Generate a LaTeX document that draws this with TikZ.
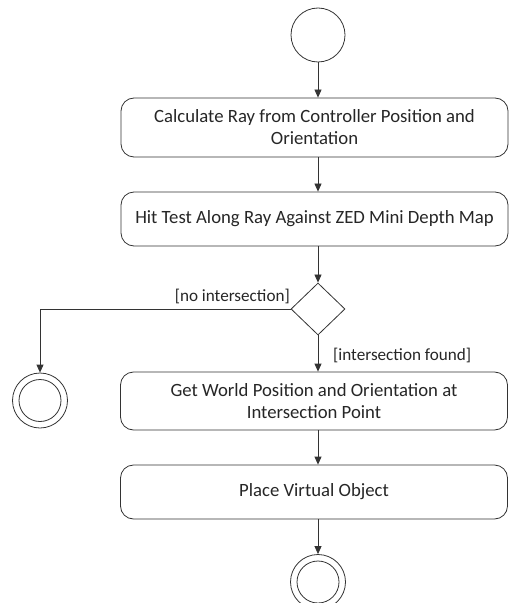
\documentclass[tikz,border=0pt]{standalone}
\usepackage{fontspec}
\setmainfont{Carlito}
\usetikzlibrary{arrows.meta,shapes.geometric}

\tikzset{
  x=1bp, y=-1bp,
  act/.style={draw=black!80, line width=0.8bp, rectangle, rounded corners=13bp,
    minimum width=387bp, align=center, font=\fontsize{18.8}{22}\selectfont,
    text=black!85, inner sep=0pt},
  initial/.style={draw=black!80, line width=0.8bp, circle, minimum size=54bp, inner sep=0pt},
  final/.style={draw=black!80, line width=0.8bp, circle, minimum size=55bp, inner sep=0pt},
  choice/.style={draw=black!80, line width=0.8bp, diamond, minimum width=54bp,
    minimum height=52bp, inner sep=0pt},
  flow/.style={draw=black!80, line width=0.8bp, -{Triangle[length=8bp,width=7bp]}},
  guard/.style={font=\fontsize{17.2}{20}\selectfont, text=black!85, inner sep=0pt}
}

\begin{document}
\begin{tikzpicture}
  \useasboundingbox (0,0) rectangle (509,603);

  \node[initial] (start) at (318,35) {};
  \node[act, minimum height=59bp] (calc) at (314.5,127.5)
    {Calculate Ray from Controller Position and\\Orientation};
  \node[act, minimum height=54bp] (hit) at (314.5,219)
    {Hit Test Along Ray Against ZED Mini Depth Map};
  \node[choice] (dec) at (318,309) {};
  \node[act, minimum height=58bp] (world) at (314,401)
    {Get World Position and Orientation at\\Intersection Point};
  \node[act, minimum height=54bp] (place) at (314,492) {Place Virtual Object};

  \node[final] (endA) at (40,400.5) {};
  \draw[line width=0.8bp, black!80] (endA) circle (21bp);
  \node[final] (endB) at (318,582) {};
  \draw[line width=0.8bp, black!80] (endB) circle (21bp);
  \coordinate (bend) at (40,309);

  % flow
  \draw[flow] (start) -- (calc.north -| start);
  \draw[flow] (calc.south -| start) -- (hit.north -| start);
  \draw[flow] (hit.south -| start) -- (dec);
  \draw[flow] (dec) -- (world.north -| start);
  \draw[flow] (dec.west) -- (bend) -- (endA);
  \draw[flow] (world.south -| start) -- (place.north -| start);
  \draw[flow] (place.south -| start) -- (endB);

  \node[guard, anchor=east] at (290,296) {[no intersection]};
  \node[guard, anchor=west] at (333,355) {[intersection found]};
\end{tikzpicture}
\end{document}
